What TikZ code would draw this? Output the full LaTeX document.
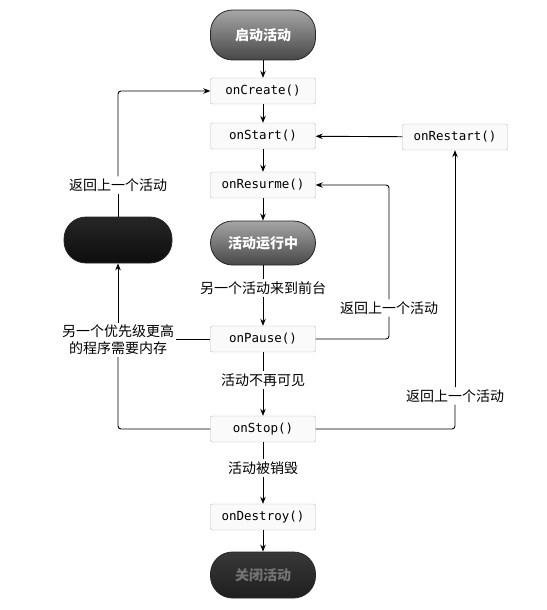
\documentclass[tikz,border=0pt]{standalone}
\usepackage{fontspec}
\newfontfamily\cjk{Noto Sans CJK SC}
\newfontfamily\mono{DejaVu Sans Mono}
\usetikzlibrary{arrows.meta}
\begin{document}
\begin{tikzpicture}[x=1pt,y=-1pt,
 fn/.style={draw=gray!55, fill=black!2, rounded corners=2pt, minimum width=105pt, minimum height=26pt, font=\mono\fontsize{12.5}{14}\selectfont, inner sep=0pt},
 pill/.style={draw=black!85, line width=0.8pt, rounded corners=22pt, minimum width=105pt, minimum height=46pt, top color=black!35, bottom color=black!72, font=\cjk\bfseries\fontsize{14}{16}\selectfont, text=white},
 darkpill/.style={pill, top color=black!78, bottom color=black!88, text=black!55},
 blackpill/.style={pill, top color=black!85, bottom color=black!95},
 lbl/.style={fill=white, font=\cjk\fontsize{14}{17}\selectfont, inner sep=2pt},
 arr/.style={-{Stealth[length=7pt,width=5.5pt]}, line width=0.9pt},
 ln/.style={line width=0.9pt}
]
\useasboundingbox (0,0) rectangle (546,610);
\node[pill, minimum height=50pt] (start) at (263,35) {启动活动};
\node[fn] (create) at (263,91) {onCreate()};
\node[fn] (startf) at (263,136) {onStart()};
\node[fn] (restart) at (455,137) {onRestart()};
\node[fn] (resume) at (263,185) {onResurme()};
\node[pill, minimum height=44pt] (run) at (263,243) {活动运行中};
\node[lbl] (l1) at (263,288) {另一个活动来到前台};
\node[fn] (pause) at (263,339) {onPause()};
\node[lbl] (l2) at (263,380) {活动不再可见};
\node[fn] (stop) at (263,429) {onStop()};
\node[lbl] (l3) at (263,468) {活动被销毁};
\node[fn] (destroy) at (263,517) {onDestroy()};
\node[darkpill] (end) at (263,575) {关闭活动};
\node[blackpill, minimum width=108pt] (killed) at (118,240) {};
\node[lbl] (l4) at (118,185) {返回上一个活动};
\node[lbl, align=center] (l5) at (118,340) {另一个优先级更高\\的程序需要内存};
\node[lbl] (l6) at (389,308) {返回上一个活动};
\node[lbl] (l7) at (455,396) {返回上一个活动};

\draw[arr] (start) -- (create);
\draw[arr] (create) -- (startf);
\draw[arr] (startf) -- (resume);
\draw[arr] (resume) -- (run);
\draw[ln] (run) -- (l1);
\draw[arr] (l1) -- (pause);
\draw[ln] (pause) -- (l2);
\draw[arr] (l2) -- (stop);
\draw[ln] (stop) -- (l3);
\draw[arr] (l3) -- (destroy);
\draw[arr] (destroy) -- (end);
\draw[arr] (restart) -- (startf);

\draw[ln] (killed) -- (l4);
\draw[arr, rounded corners=3pt] (l4.north) |- (create.west);
\draw[ln] (pause.west) -- (l5.east |- pause.west);
\draw[ln, rounded corners=3pt] (stop.west) -| (l5.south);
\draw[arr] (l5.north) -- (killed.south);

\draw[ln, rounded corners=3pt] (pause.east) -| (l6.south);
\draw[arr, rounded corners=3pt] (l6.north) |- (resume.east);
\draw[ln, rounded corners=3pt] (stop.east) -| (l7.south);
\draw[arr] (l7.north) -- (restart.south);
\end{tikzpicture}
\end{document}
